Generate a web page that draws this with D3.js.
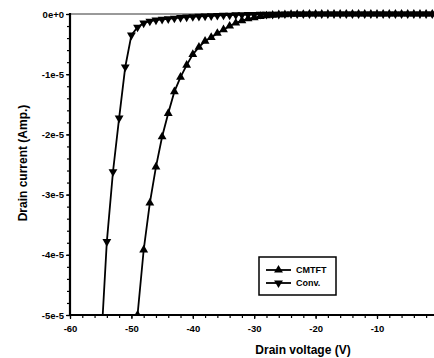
<!DOCTYPE html>
<html>
<head>
<meta charset="utf-8">
<script src="https://cdn.jsdelivr.net/npm/d3@7"></script>
<style>
  body { margin: 0; background: #fff; }
  svg { display: block; font-family: "Liberation Sans", Arial, sans-serif; }
</style>
</head>
<body>
<div id="chart"></div>
<script>
var width = 434;
var height = 358;

// drain voltage (V)
var cmtftVoltage = d3.range(-50, 1);
var convVoltage = d3.range(-55, 1);

// drain current (A)
var cmtftCurrent = [
  -6.2e-5, -5.0e-5, -3.92e-5, -3.14e-5, -2.54e-5, -2.04e-5, -1.65e-5, -1.29e-5, -1.05e-5, -0.85e-5,
  -0.67e-5, -0.55e-5, -0.45e-5, -0.39e-5, -0.32e-5, -0.26e-5, -0.20e-5, -0.15e-5, -0.11e-5, -0.08e-5,
  -0.06e-5, -0.04e-5, -0.03e-5, -0.02e-5, -0.01e-5, -0.01e-5, -0.005e-5, -0.005e-5, -0.005e-5, 0,
  0, 0, 0, 0, 0, 0, 0, 0, 0, 0,
  0, 0, 0, 0, 0, 0, 0, 0, 0, 0, 0
];
var convCurrent = [
  -5.6e-5, -3.78e-5, -2.62e-5, -1.73e-5, -0.88e-5, -0.35e-5, -0.22e-5, -0.15e-5, -0.12e-5, -0.10e-5,
  -0.09e-5, -0.08e-5, -0.07e-5, -0.06e-5, -0.05e-5, -0.045e-5, -0.04e-5, -0.035e-5, -0.03e-5, -0.025e-5,
  -0.02e-5, -0.02e-5, -0.015e-5, -0.015e-5, -0.01e-5, -0.01e-5, -0.005e-5, -0.005e-5, -0.005e-5, -0.005e-5,
  0, 0, 0, 0, 0, 0, 0, 0, 0, 0,
  0, 0, 0, 0, 0, 0, 0, 0, 0, 0,
  0, 0, 0, 0, 0, 0
];

var xTicks = [-60, -50, -40, -30, -20, -10];
var yTicks = [0, -1e-5, -2e-5, -3e-5, -4e-5, -5e-5];
var seriesNames = ['CMTFT', 'Conv.'];

var svg = d3.select('#chart')
  .append('svg')
  .attr('width', width)
  .attr('height', height);

var plotLeft = 70, plotTop = 14, plotBottom = 315;

var x = d3.scaleLinear().domain([-60, 0]).range([plotLeft, 438.4]);
var y = d3.scaleLinear().domain([-5e-5, 0]).range([plotBottom, plotTop]);

var hyphen = function (s) { return s.replace(/\u2212/g, '-'); };
var yFormat = function (d) { return hyphen(d3.format('.0e')(d)); };
var xFormat = function (d) { return hyphen(d3.format('d')(d)); };

// clip below the x axis and left of the y axis
svg.append('clipPath').attr('id', 'clip')
  .append('rect')
  .attr('x', plotLeft).attr('y', 0)
  .attr('width', width - plotLeft).attr('height', plotBottom);

// thin zero line at top
svg.append('line')
  .attr('x1', plotLeft).attr('x2', width)
  .attr('y1', y(0)).attr('y2', y(0))
  .attr('stroke', '#000').attr('stroke-width', 0.8);

// minor ticks
svg.append('g')
  .attr('transform', 'translate(' + plotLeft + ',0)')
  .call(d3.axisLeft(y).tickValues(d3.range(0, 26).map(function (i) { return -i * 0.2e-5; })).tickSize(3).tickFormat(''))
  .call(function (g) { g.select('.domain').remove(); })
  .selectAll('line').attr('stroke-width', 1.2);

svg.append('g')
  .attr('transform', 'translate(0,' + plotBottom + ')')
  .call(d3.axisBottom(x).tickValues(d3.range(-60, 1, 2)).tickSize(3).tickFormat(''))
  .call(function (g) { g.select('.domain').remove(); })
  .selectAll('line').attr('stroke-width', 1.2);

// major axes
var yAxis = svg.append('g')
  .attr('transform', 'translate(' + plotLeft + ',0)')
  .call(d3.axisLeft(y).tickValues(yTicks).tickSize(4).tickPadding(2).tickFormat(yFormat));

var xAxis = svg.append('g')
  .attr('transform', 'translate(0,' + plotBottom + ')')
  .call(d3.axisBottom(x).tickValues(xTicks).tickSize(4).tickPadding(6).tickFormat(xFormat));

[yAxis, xAxis].forEach(function (g) {
  g.select('.domain').remove();
  g.selectAll('line').attr('stroke-width', 1.2);
  g.selectAll('text')
    .style('font-size', '9.5px')
    .style('font-weight', 'bold')
    .attr('fill', '#000');
});

svg.append('line')
  .attr('x1', plotLeft).attr('x2', plotLeft)
  .attr('y1', plotTop - 1).attr('y2', plotBottom + 1)
  .attr('stroke', '#000').attr('stroke-width', 2.2);
svg.append('line')
  .attr('x1', plotLeft - 1).attr('x2', width)
  .attr('y1', plotBottom).attr('y2', plotBottom)
  .attr('stroke', '#000').attr('stroke-width', 2.2);

// series
var tri = d3.symbol().type(d3.symbolTriangle).size(34);

var line = d3.line()
  .x(function (d) { return x(d[0]); })
  .y(function (d) { return y(d[1]); });

var series = [
  { name: seriesNames[0], data: d3.zip(cmtftVoltage, cmtftCurrent), rot: 0 },
  { name: seriesNames[1], data: d3.zip(convVoltage, convCurrent), rot: 180 }
];

var plot = svg.append('g').attr('clip-path', 'url(#clip)');

series.forEach(function (s) {
  plot.append('path')
    .datum(s.data)
    .attr('d', line)
    .attr('fill', 'none')
    .attr('stroke', '#000')
    .attr('stroke-width', 1.8);

  plot.selectAll(null)
    .data(s.data)
    .enter()
    .append('path')
    .attr('d', tri)
    .attr('transform', function (d) {
      return 'translate(' + x(d[0]) + ',' + y(d[1]) + ') rotate(' + s.rot + ')';
    })
    .attr('fill', '#000');
});

// axis titles
svg.append('text')
  .attr('x', 303)
  .attr('y', 354)
  .attr('text-anchor', 'middle')
  .style('font-size', '12px')
  .style('font-weight', 'bold')
  .text('Drain voltage (V)');

svg.append('text')
  .attr('transform', 'translate(27,163) rotate(-90)')
  .attr('text-anchor', 'middle')
  .style('font-size', '12px')
  .style('font-weight', 'bold')
  .text('Drain current (Amp.)');

// legend
var legend = svg.append('g');
legend.append('rect')
  .attr('x', 259).attr('y', 257)
  .attr('width', 77).attr('height', 38)
  .attr('fill', '#fff')
  .attr('stroke', '#000')
  .attr('stroke-width', 1.5);

series.forEach(function (s, i) {
  var ly = 270 + i * 13;
  legend.append('line')
    .attr('x1', 266).attr('x2', 291)
    .attr('y1', ly).attr('y2', ly)
    .attr('stroke', '#000').attr('stroke-width', 1.8);
  legend.append('path')
    .attr('d', tri)
    .attr('transform', 'translate(278.5,' + ly + ') rotate(' + s.rot + ')')
    .attr('fill', '#000');
  legend.append('text')
    .attr('x', 296)
    .attr('y', ly + 3)
    .style('font-size', '9px')
    .style('font-weight', 'bold')
    .text(s.name);
});
</script>
</body>
</html>
